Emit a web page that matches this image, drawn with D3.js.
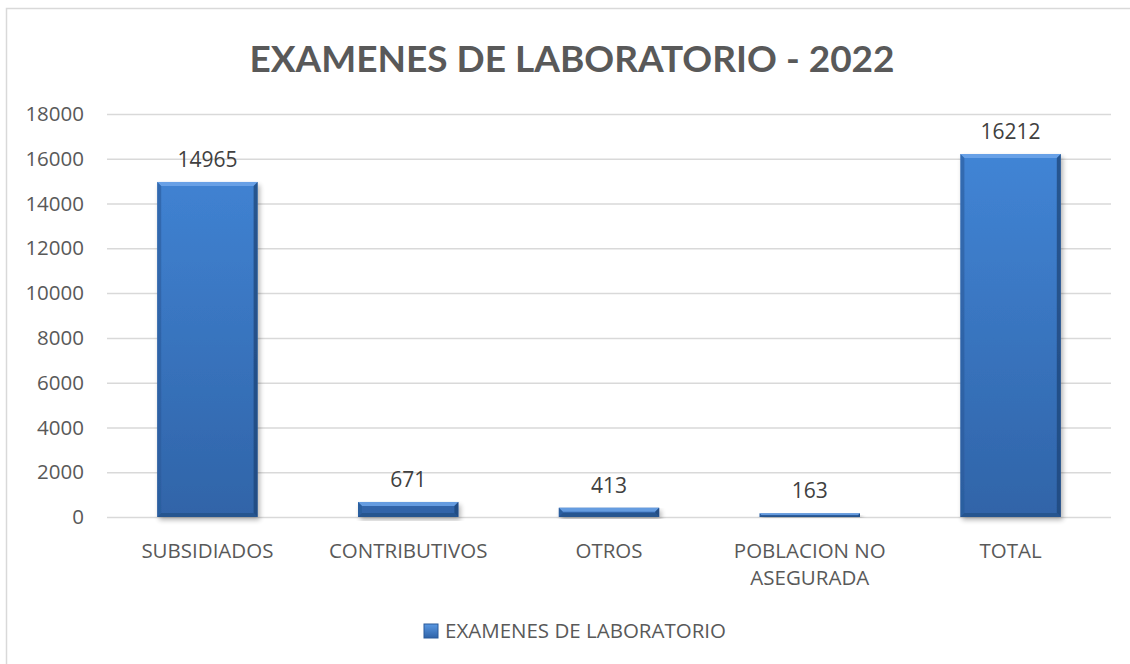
<!DOCTYPE html>
<html>
<head>
<meta charset="utf-8">
<script src="https://cdn.jsdelivr.net/npm/d3@7"></script>
<style>
  body { margin: 0; background: #fff; }
  svg text { font-family: "Open Sans", sans-serif; }
</style>
</head>
<body>
<div class="chart"></div>
<script>
const categories = [["SUBSIDIADOS"], ["CONTRIBUTIVOS"], ["OTROS"], ["POBLACION NO", "ASEGURADA"], ["TOTAL"]];
const values = [14965, 671, 413, 163, 16212];
const yTicks = [0, 2000, 4000, 6000, 8000, 10000, 12000, 14000, 16000, 18000];
const title = "EXAMENES DE LABORATORIO - 2022";
const seriesName = "EXAMENES DE LABORATORIO";

const width = 1130, height = 664;
const plot = {left: 107, right: 1111, top: 114, bottom: 517};
const bevel = 4;

const data = values.map((v, i) => ({key: categories[i].join(" "), lines: categories[i], value: v}));

const svg = d3.select(".chart").append("svg")
    .attr("width", width)
    .attr("height", height);

const defs = svg.append("defs");

const grad = defs.append("linearGradient")
    .attr("id", "barFill")
    .attr("gradientUnits", "userSpaceOnUse")
    .attr("x1", 0).attr("y1", plot.top).attr("x2", 0).attr("y2", plot.bottom);
grad.append("stop").attr("offset", "0%").attr("stop-color", "#4388da");
grad.append("stop").attr("offset", "100%").attr("stop-color", "#3064a8");

const legendFill = defs.append("linearGradient")
    .attr("id", "legendFill")
    .attr("x1", 0).attr("y1", 0).attr("x2", 0).attr("y2", 1);
legendFill.append("stop").attr("offset", "0%").attr("stop-color", "#5a98e2");
legendFill.append("stop").attr("offset", "100%").attr("stop-color", "#2f63a8");

const shadow = defs.append("filter")
    .attr("id", "shadow")
    .attr("x", "-20%").attr("y", "-20%").attr("width", "140%").attr("height", "140%");
shadow.append("feGaussianBlur").attr("in", "SourceAlpha").attr("stdDeviation", 2.5);
shadow.append("feOffset").attr("dx", 2).attr("dy", 3).attr("result", "off");
shadow.append("feComponentTransfer").append("feFuncA").attr("type", "linear").attr("slope", 0.3);
const merge = shadow.append("feMerge");
merge.append("feMergeNode");
merge.append("feMergeNode").attr("in", "SourceGraphic");

// chart border
svg.append("rect")
    .attr("x", 6.5).attr("y", 8.5)
    .attr("width", 1140).attr("height", 680)
    .attr("fill", "none")
    .attr("stroke", "#d9d9d9")
    .attr("stroke-width", 1.5);

const x = d3.scaleBand()
    .domain(data.map(d => d.key))
    .range([plot.left, plot.right])
    .paddingInner(0.5)
    .paddingOuter(0.25);

const y = d3.scaleLinear()
    .domain([0, 18000])
    .range([plot.bottom, plot.top]);

// gridlines
svg.append("g")
    .attr("class", "grid")
    .attr("transform", "translate(" + plot.left + ",0)")
    .call(d3.axisLeft(y).tickValues(yTicks).tickSize(-(plot.right - plot.left)).tickFormat(""))
    .call(g => g.select(".domain").remove())
    .call(g => g.selectAll("line").attr("stroke", "#d9d9d9").attr("stroke-width", 1.5));

// y labels
svg.append("g")
    .attr("transform", "translate(" + (plot.left - 23) + ",0)")
    .call(d3.axisLeft(y).tickValues(yTicks).tickSize(0).tickPadding(0).tickFormat(d3.format("d")))
    .call(g => g.select(".domain").remove())
    .call(g => g.selectAll("text")
        .attr("fill", "#595959")
        .style("font-size", "20.5px"));

// bars
const bars = svg.append("g").selectAll("g.bar")
    .data(data)
  .enter().append("g")
    .attr("class", "bar")
    .attr("filter", "url(#shadow)");

bars.append("rect")
    .attr("x", d => x(d.key))
    .attr("y", d => y(d.value))
    .attr("width", x.bandwidth())
    .attr("height", d => y(0) - y(d.value))
    .attr("fill", "url(#barFill)");

function bevelPaths(d) {
  const x0 = x(d.key), x1 = x0 + x.bandwidth(), y0 = y(d.value), y1 = y(0);
  const b = Math.min(bevel, (y1 - y0) / 2);
  return [
    {p: [[x0, y0], [x1, y0], [x1 - b, y0 + b], [x0 + b, y0 + b]], c: "#6ea6ea", o: 0.85},
    {p: [[x0, y0], [x0 + b, y0 + b], [x0 + b, y1 - b], [x0, y1]], c: "#2a5a9a", o: 0.6},
    {p: [[x1, y0], [x1, y1], [x1 - b, y1 - b], [x1 - b, y0 + b]], c: "#1f4578", o: 0.75},
    {p: [[x0, y1], [x0 + b, y1 - b], [x1 - b, y1 - b], [x1, y1]], c: "#234d85", o: 0.7}
  ];
}

bars.selectAll("path")
    .data(d => bevelPaths(d))
  .enter().append("path")
    .attr("d", e => "M" + e.p.join("L") + "Z")
    .attr("fill", e => e.c)
    .attr("fill-opacity", e => e.o);

// value labels
svg.append("g").selectAll("text")
    .data(data)
  .enter().append("text")
    .attr("x", d => x(d.key) + x.bandwidth() / 2)
    .attr("y", d => y(d.value) - 15)
    .attr("text-anchor", "middle")
    .attr("fill", "#404040")
    .style("font-size", "21px")
    .text(d => d.value);

// category labels
const cats = svg.append("g").selectAll("text")
    .data(data)
  .enter().append("text")
    .attr("x", d => x(d.key) + x.bandwidth() / 2)
    .attr("y", 558)
    .attr("text-anchor", "middle")
    .attr("fill", "#595959")
    .style("font-size", "20.5px");

cats.selectAll("tspan")
    .data(d => d.lines.map(l => ({l, cx: x(d.key) + x.bandwidth() / 2})))
  .enter().append("tspan")
    .attr("x", t => t.cx)
    .attr("dy", (t, i) => i ? 27 : 0)
    .text(t => t.l);

// title
svg.append("text")
    .attr("x", 572)
    .attr("y", 72)
    .attr("text-anchor", "middle")
    .attr("fill", "#595959")
    .style("font-family", "Lato, sans-serif")
    .style("font-size", "37px")
    .style("font-weight", "bold")
    .text(title);

// legend
const legend = svg.append("g").attr("transform", "translate(424,624)");
legend.append("rect")
    .attr("width", 14).attr("height", 14)
    .attr("fill", "url(#legendFill)")
    .attr("stroke", "#2a5a9a")
    .attr("stroke-width", 1);
legend.append("text")
    .attr("x", 21)
    .attr("y", 14)
    .attr("fill", "#595959")
    .style("font-size", "20.5px")
    .text(seriesName);
</script>
</body>
</html>
